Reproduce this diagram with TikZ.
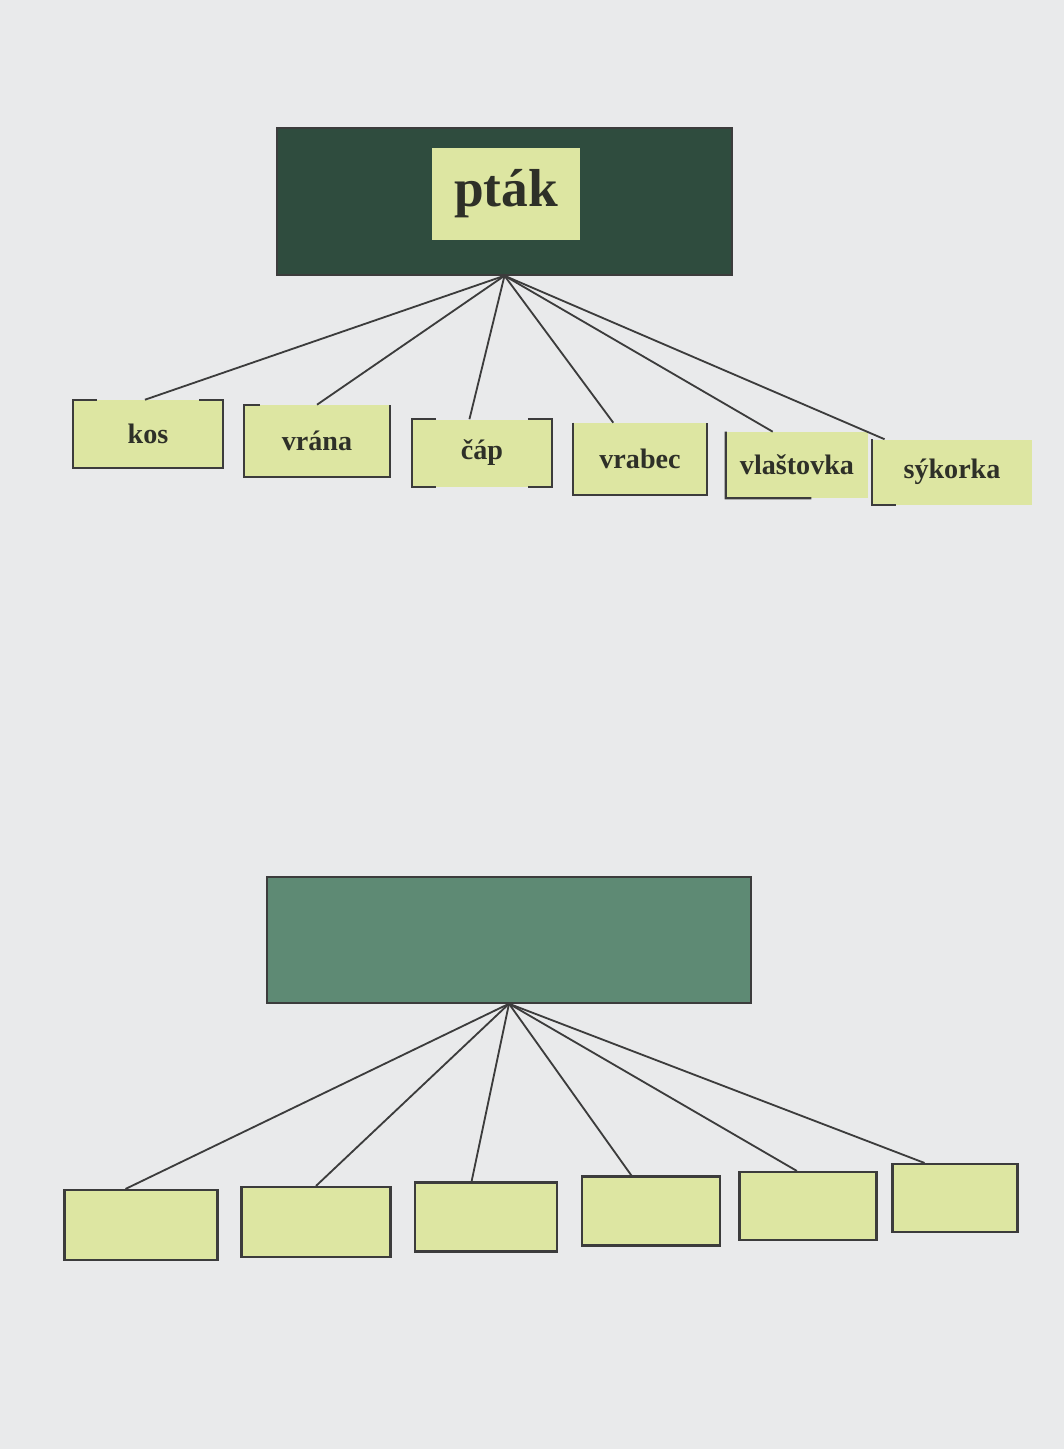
\documentclass[tikz,border=0pt]{standalone}
\usepackage{fontspec}
\setmainfont{Liberation Serif}
\usetikzlibrary{calc}

\definecolor{page}{HTML}{E9EAEB}
\definecolor{darkgreen}{HTML}{2F4C3E}
\definecolor{tealgreen}{HTML}{5E8A74}
\definecolor{strip}{HTML}{DDE6A2}
\definecolor{pen}{HTML}{3C3C3C}
\definecolor{ink}{HTML}{2E3028}

\begin{document}
\begin{tikzpicture}[x=0.025cm, y=-0.025cm]

  \tikzset{HeadStyle/.style = {
  shape = rectangle,
  fill = darkgreen,
  draw = pen,
  line width = 1pt,
  inner sep = 0pt}}
  \tikzset{WordStyle/.style = {
  shape = rectangle,
  fill = strip,
  text = ink,
  inner sep = 0pt,
  font = \fontsize{20}{24}\selectfont\bfseries}}
  \tikzset{EmptyStyle/.style = {
  shape = rectangle,
  fill = strip,
  draw = pen,
  line width = 1.5pt,
  inner sep = 0pt}}
  \tikzset{EdgeStyle/.style = {
  draw = pen,
  line width = 1.3pt}}
  \tikzset{RimStyle/.style = {
  draw = pen,
  line width = 1.5pt}}

  \fill[page] (0,0) rectangle (1064,1449);
  \useasboundingbox (0,0) rectangle (1064,1449);

  \begin{scope}
    \node[HeadStyle, minimum width=11.375cm, minimum height=3.675cm] (ptakbox) at (504.5,201.5) {};
    \node[WordStyle, minimum width=3.7cm, minimum height=2.3cm,
          font=\fontsize{38}{42}\selectfont\bfseries] (ptak) at (506,194) {pták};
    \node[WordStyle, minimum width=3.75cm, minimum height=1.7cm] (kos) at (148,434) {kos};
    \node[WordStyle, minimum width=3.625cm, minimum height=1.8cm] (vrana) at (317,441) {vrána};
    \node[WordStyle, minimum width=3.475cm, minimum height=1.675cm] (cap) at (482,453) {čáp};
    \node[WordStyle, minimum width=3.325cm, minimum height=1.8cm] (vrabec) at (640,459) {vrabec};
    \node[WordStyle, minimum width=3.55cm, minimum height=1.65cm] (vlastovka) at (797,465) {vlaštovka};
    \node[WordStyle, minimum width=4cm, minimum height=1.625cm] (sykorka) at (952,472) {sýkorka};
    \draw[RimStyle] ([xshift=0.6cm]kos.north west) -- (kos.north west) -- (kos.south west)
      -- (kos.south east) -- (kos.north east) -- ([xshift=-0.6cm]kos.north east);
    \draw[RimStyle] ([xshift=0.4cm]vrana.north west) -- (vrana.north west) -- (vrana.south west)
      -- (vrana.south east) -- (vrana.north east);
    \draw[RimStyle] ([xshift=0.6cm]cap.north west) -- (cap.north west) -- (cap.south west)
      -- ([xshift=0.6cm]cap.south west);
    \draw[RimStyle] ([xshift=-0.6cm]cap.north east) -- (cap.north east) -- (cap.south east)
      -- ([xshift=-0.6cm]cap.south east);
    \draw[RimStyle] (vrabec.north west) -- (vrabec.south west) -- (vrabec.south east) -- (vrabec.north east);
    \draw[RimStyle] (vlastovka.north west) -- (vlastovka.south west) -- ($(vlastovka.south west)!0.6!(vlastovka.south east)$);
    \draw[RimStyle] (sykorka.north west) -- (sykorka.south west) -- ([xshift=0.6cm]sykorka.south west);
    \draw[EdgeStyle] (ptakbox.south) -- ($(kos.north west)!0.48!(kos.north east)$);
    \draw[EdgeStyle] (ptakbox.south) -- ($(vrana.north west)!0.5!(vrana.north east)$);
    \draw[EdgeStyle] (ptakbox.south) -- ($(cap.north west)!0.41!(cap.north east)$);
    \draw[EdgeStyle] (ptakbox.south) -- ($(vrabec.north west)!0.3!(vrabec.north east)$);
    \draw[EdgeStyle] (ptakbox.south) -- ($(vlastovka.north west)!0.33!(vlastovka.north east)$);
    \draw[EdgeStyle] (ptakbox.south) -- ($(sykorka.north west)!0.08!(sykorka.north east)$);
  \end{scope}

  \begin{scope}
    \node[HeadStyle, fill=tealgreen, minimum width=12.1cm, minimum height=3.15cm] (blankbox) at (509,940) {};
    \node[EmptyStyle, minimum width=3.825cm, minimum height=1.75cm] (B1) at (141,1225) {};
    \node[EmptyStyle, minimum width=3.725cm, minimum height=1.75cm] (B2) at (316,1222) {};
    \node[EmptyStyle, minimum width=3.55cm, minimum height=1.725cm] (B3) at (486,1217) {};
    \node[EmptyStyle, minimum width=3.45cm, minimum height=1.725cm] (B4) at (651,1211) {};
    \node[EmptyStyle, minimum width=3.425cm, minimum height=1.7cm] (B5) at (808,1206) {};
    \node[EmptyStyle, minimum width=3.125cm, minimum height=1.7cm] (B6) at (955,1198) {};
    \draw[EdgeStyle] (blankbox.south) -- ($(B1.north west)!0.4!(B1.north east)$);
    \draw[EdgeStyle] (blankbox.south) -- ($(B2.north west)!0.5!(B2.north east)$);
    \draw[EdgeStyle] (blankbox.south) -- ($(B3.north west)!0.4!(B3.north east)$);
    \draw[EdgeStyle] (blankbox.south) -- ($(B4.north west)!0.36!(B4.north east)$);
    \draw[EdgeStyle] (blankbox.south) -- ($(B5.north west)!0.42!(B5.north east)$);
    \draw[EdgeStyle] (blankbox.south) -- ($(B6.north west)!0.26!(B6.north east)$);
  \end{scope}
\end{tikzpicture}
\end{document}
